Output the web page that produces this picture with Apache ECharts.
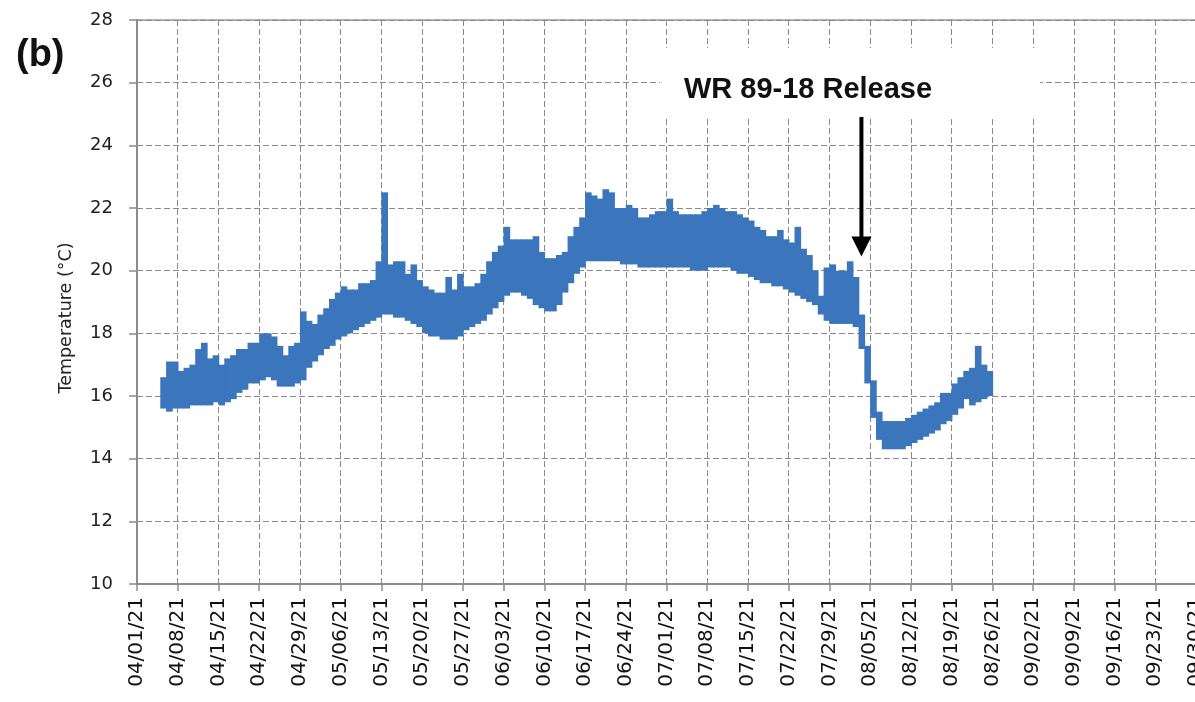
<!DOCTYPE html>
<html>
<head>
<meta charset="utf-8">
<script src="https://cdn.jsdelivr.net/npm/echarts@6/dist/echarts.min.js"></script>
<style>
  html, body { margin: 0; padding: 0; background: #fff; overflow: hidden; }
  #chart { width: 1195px; height: 702px; }
</style>
</head>
<body>
<div id="chart"></div>
<script>
// x values are day offsets from 04/01/21
const xTickLabels = [
  '04/01/21', '04/08/21', '04/15/21', '04/22/21', '04/29/21', '05/06/21', '05/13/21',
  '05/20/21', '05/27/21', '06/03/21', '06/10/21', '06/17/21', '06/24/21', '07/01/21',
  '07/08/21', '07/15/21', '07/22/21', '07/29/21', '08/05/21', '08/12/21', '08/19/21',
  '08/26/21', '09/02/21', '09/09/21', '09/16/21', '09/23/21', '09/30/21'
]
const firstDay = 4 // 04/05/21

// daily max temperature (°C), from 04/05 to 08/25
const dailyHigh = [
  16.6, 17.1, 17.1, 16.8, 16.9, 17.0, 17.5, 17.7, 17.2, 17.3,
  17.0, 17.2, 17.3, 17.5, 17.5, 17.7, 17.7, 18.0, 18.0, 17.9,
  17.6, 17.3, 17.6, 17.7, 18.7, 18.4, 18.3, 18.6, 18.8, 19.1,
  19.3, 19.5, 19.4, 19.4, 19.6, 19.6, 19.7, 20.3, 22.5, 20.2,
  20.3, 20.3, 19.9, 20.2, 19.7, 19.5, 19.4, 19.3, 19.3, 19.8,
  19.4, 19.9, 19.5, 19.5, 19.6, 19.9, 20.3, 20.6, 20.8, 21.4,
  21.0, 21.0, 21.0, 21.0, 21.1, 20.6, 20.4, 20.4, 20.5, 20.6,
  21.1, 21.4, 21.7, 22.5, 22.4, 22.3, 22.6, 22.5, 22.0, 22.0,
  22.1, 22.0, 21.7, 21.7, 21.8, 21.9, 21.9, 22.3, 21.9, 21.8,
  21.8, 21.8, 21.8, 21.9, 22.0, 22.1, 22.0, 21.9, 21.9, 21.8,
  21.7, 21.6, 21.4, 21.3, 21.1, 21.1, 21.3, 21.0, 20.9, 21.4,
  20.7, 20.5, 20.0, 19.2, 20.1, 20.2, 20.0, 20.0, 20.3, 19.8,
  18.6, 17.6, 16.5, 15.5, 15.2, 15.2, 15.2, 15.2, 15.3, 15.4,
  15.5, 15.6, 15.7, 15.8, 16.1, 16.1, 16.4, 16.6, 16.8, 16.9,
  17.6, 17.0, 16.8
]
// daily min temperature (°C)
const dailyLow = [
  15.6, 15.5, 15.6, 15.6, 15.6, 15.7, 15.7, 15.7, 15.7, 15.8,
  15.7, 15.8, 15.9, 16.1, 16.2, 16.4, 16.4, 16.5, 16.6, 16.5,
  16.3, 16.3, 16.3, 16.4, 16.5, 16.9, 17.1, 17.3, 17.5, 17.6,
  17.8, 17.9, 18.0, 18.1, 18.2, 18.3, 18.4, 18.5, 18.6, 18.6,
  18.5, 18.5, 18.4, 18.3, 18.2, 18.0, 17.9, 17.9, 17.8, 17.8,
  17.8, 17.9, 18.1, 18.2, 18.3, 18.4, 18.6, 18.8, 19.0, 19.2,
  19.3, 19.3, 19.2, 19.1, 18.9, 18.8, 18.7, 18.7, 18.9, 19.3,
  19.6, 19.9, 20.1, 20.3, 20.3, 20.3, 20.3, 20.3, 20.3, 20.2,
  20.2, 20.2, 20.1, 20.1, 20.1, 20.1, 20.1, 20.1, 20.1, 20.1,
  20.1, 20.0, 20.0, 20.0, 20.1, 20.1, 20.1, 20.1, 20.0, 19.9,
  19.9, 19.8, 19.7, 19.6, 19.6, 19.5, 19.5, 19.4, 19.3, 19.2,
  19.1, 19.0, 18.9, 18.6, 18.4, 18.3, 18.3, 18.3, 18.3, 18.2,
  17.5, 16.4, 15.3, 14.6, 14.3, 14.3, 14.3, 14.3, 14.4, 14.5,
  14.6, 14.7, 14.8, 14.9, 15.1, 15.2, 15.4, 15.6, 15.9, 15.7,
  15.8, 15.9, 16.0
]

const releaseDay = 124.5
const releaseTemp = 20.45

const bandData = dailyHigh.map((hi, i) => [firstDay + i, dailyLow[i], hi])

const gridColor = '#8a8a8a'
const chart = echarts.init(document.getElementById('chart'))

chart.setOption({
  animation: false,
  title: {
    text: '(b)',
    left: 11,
    top: 32,
    textStyle: { fontFamily: 'Liberation Sans', fontWeight: 'bold', fontSize: 38, color: '#111' }
  },
  grid: {
    left: 137,
    top: 20,
    width: 1059,
    height: 564,
    outerBoundsMode: 'none',
    show: true,
    borderColor: '#999',
    borderWidth: 1.5
  },
  xAxis: {
    type: 'value',
    min: 0,
    max: 182,
    interval: 7,
    axisLine: { lineStyle: { color: '#8c8c8c', width: 2 } },
    axisTick: { show: true, length: 7, lineStyle: { color: '#8c8c8c', width: 1.5 } },
    axisLabel: {
      rotate: 90,
      margin: 13,
      fontFamily: 'DejaVu Sans',
      fontSize: 20,
      color: '#111',
      formatter: v => xTickLabels[Math.round(v / 7)]
    },
    splitLine: { show: true, lineStyle: { color: gridColor, type: [6, 3], width: 1 } }
  },
  yAxis: {
    type: 'value',
    min: 10,
    max: 28,
    interval: 2,
    name: 'Temperature (°C)',
    nameLocation: 'middle',
    nameGap: 62,
    nameTextStyle: {
      fontFamily: 'DejaVu Sans',
      fontSize: 17.5,
      color: '#222',
      padding: [0, 32, 0, 0]
    },
    axisLine: { show: true, lineStyle: { color: '#8c8c8c', width: 2 } },
    axisTick: { show: true, length: 8, lineStyle: { color: '#8c8c8c', width: 1.5 } },
    axisLabel: { margin: 24, fontFamily: 'DejaVu Sans', fontSize: 18, color: '#222' },
    splitLine: { show: true, lineStyle: { color: gridColor, type: [6, 3], width: 1 } }
  },
  series: [
    {
      type: 'custom',
      clip: true,
      data: bandData,
      encode: { x: 0, y: [1, 2] },
      renderItem (params, api) {
        const d = api.value(0)
        const top = api.coord([d, api.value(2)])
        const bottom = api.coord([d + 1, api.value(1)])
        return {
          type: 'rect',
          shape: {
            x: top[0],
            y: top[1],
            width: bottom[0] - top[0] + 0.8,
            height: bottom[1] - top[1]
          },
          style: { fill: '#3b76bd' }
        }
      }
    }
  ]
})

// annotation: label box and arrow pointing to the release date
const tip = chart.convertToPixel({ xAxisIndex: 0, yAxisIndex: 0 }, [releaseDay, releaseTemp])
chart.setOption({
  graphic: [
    {
      type: 'rect',
      shape: { x: 660, y: 48, width: 380, height: 68 },
      style: { fill: '#fff' },
      z: 100
    },
    {
      type: 'text',
      x: 808,
      y: 90,
      style: {
        text: 'WR 89-18 Release',
        fontFamily: 'Liberation Sans',
        fontWeight: 'bold',
        fontSize: 29,
        fill: '#111',
        align: 'center',
        verticalAlign: 'middle'
      },
      z: 101
    },
    {
      type: 'line',
      shape: { x1: tip[0], y1: 117, x2: tip[0], y2: tip[1] - 14 },
      style: { stroke: '#000', lineWidth: 4 },
      z: 101
    },
    {
      type: 'polygon',
      shape: { points: [[tip[0] - 10, tip[1] - 20], [tip[0] + 10, tip[1] - 20], [tip[0], tip[1]]] },
      style: { fill: '#000' },
      z: 101
    }
  ]
})
</script>
</body>
</html>
